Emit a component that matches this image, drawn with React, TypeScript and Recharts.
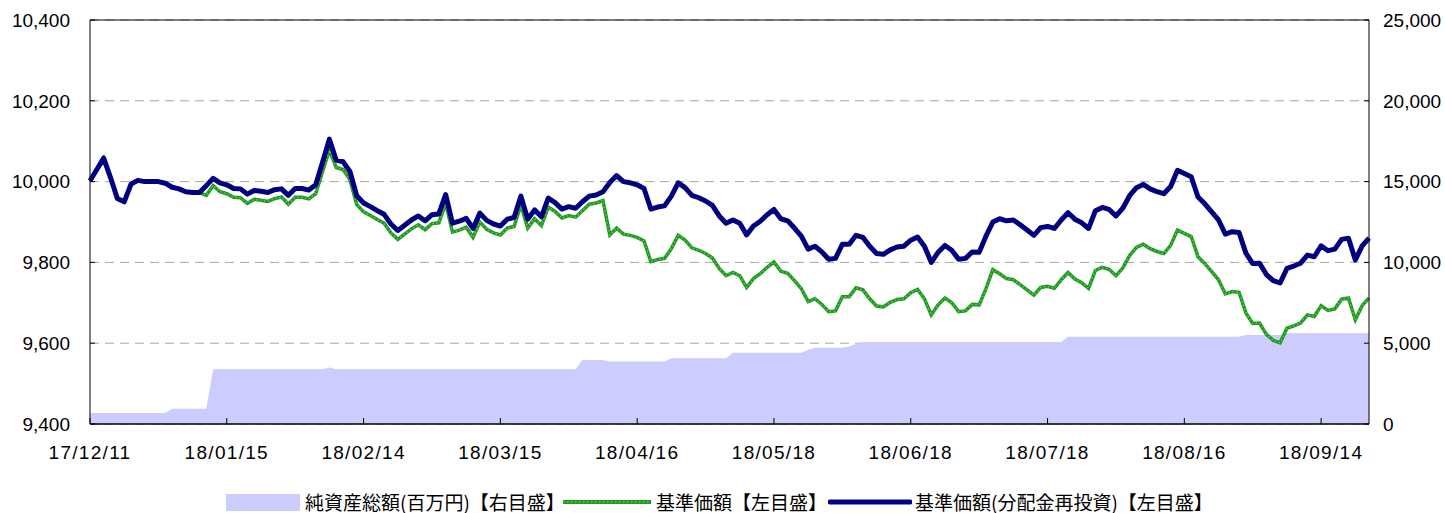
import React from "react";
import {
  ComposedChart,
  Area,
  Line,
  XAxis,
  YAxis,
  CartesianGrid,
  ReferenceLine,
} from "recharts";

// x positions of the labelled dates (index into the daily series)
const tickIndex = [0, 20, 40, 60, 80, 100, 120, 140, 160, 180];
const tickLabels = [
  "17/12/11",
  "18/01/15",
  "18/02/14",
  "18/03/15",
  "18/04/16",
  "18/05/18",
  "18/06/18",
  "18/07/18",
  "18/08/16",
  "18/09/14",
];

// 基準価額(分配金再投資) - left axis
const navReinvested = [
  10002, 10030, 10058, 10010, 9958, 9950, 9994, 10003, 10000, 10000,
  10000, 9996, 9986, 9982, 9975, 9973, 9973, 9990, 10008, 9997,
  9992, 9983, 9982, 9969, 9978, 9976, 9973, 9980, 9982, 9966,
  9983, 9983, 9979, 9992, 10048, 10105, 10053, 10049, 10025, 9965,
  9947, 9938, 9928, 9919, 9895, 9879, 9892, 9905, 9915, 9903,
  9918, 9920, 9968, 9897, 9902, 9909, 9884, 9922, 9904, 9895,
  9890, 9907, 9911, 9964, 9907, 9930, 9913, 9959, 9948, 9932,
  9938, 9934, 9950, 9964, 9967, 9975, 9998, 10015, 10000, 9997,
  9992, 9983, 9932, 9937, 9940, 9964, 9997, 9985, 9966, 9960,
  9952, 9941, 9915, 9897, 9905, 9897, 9868, 9890, 9902, 9918,
  9931, 9908, 9903, 9885, 9865, 9833, 9840, 9826, 9808, 9810,
  9845, 9845, 9867, 9862, 9840, 9822, 9820, 9831, 9838, 9840,
  9855, 9863, 9840, 9800, 9825, 9842, 9830, 9808, 9810, 9826,
  9825, 9865, 9900, 9908, 9903, 9905, 9893, 9880, 9867, 9886,
  9889, 9884, 9905, 9923, 9907, 9898, 9884, 9928, 9936, 9931,
  9915, 9934, 9965, 9985, 9993, 9982, 9975, 9970, 9988, 10028,
  10020, 10012, 9962, 9945, 9925, 9905, 9870, 9876, 9874, 9823,
  9797, 9798, 9770, 9755, 9749, 9785, 9791, 9798, 9818, 9814,
  9841, 9829, 9833, 9857, 9860, 9806, 9841, 9860,
];

// 基準価額 - left axis
const nav = [
  10002, 10030, 10058, 10010, 9958, 9950, 9994, 10003, 10000, 10000,
  10000, 9996, 9986, 9982, 9975, 9973, 9973, 9966, 9990, 9975,
  9970, 9961, 9960, 9946, 9956, 9954, 9951, 9958, 9962, 9944,
  9961, 9961, 9957, 9970, 10025, 10078, 10035, 10030, 10005, 9943,
  9925, 9916, 9906, 9897, 9873, 9857, 9870, 9883, 9893, 9881,
  9896, 9898, 9946, 9875, 9880, 9887, 9862, 9900, 9882, 9873,
  9868, 9885, 9889, 9942, 9885, 9908, 9891, 9937, 9926, 9910,
  9916, 9912, 9928, 9944, 9947, 9953, 9868, 9885, 9870, 9867,
  9862, 9853, 9802, 9807, 9810, 9834, 9867, 9855, 9836, 9830,
  9822, 9811, 9785, 9767, 9775, 9767, 9738, 9760, 9772, 9788,
  9801, 9778, 9773, 9755, 9735, 9703, 9710, 9696, 9678, 9680,
  9715, 9715, 9737, 9732, 9710, 9692, 9690, 9701, 9708, 9710,
  9725, 9733, 9710, 9670, 9695, 9712, 9700, 9678, 9680, 9696,
  9695, 9735, 9782, 9772, 9760, 9757, 9745, 9732, 9719, 9738,
  9741, 9736, 9757, 9775, 9759, 9750, 9736, 9780, 9788, 9783,
  9767, 9786, 9817, 9837, 9845, 9834, 9827, 9822, 9842, 9880,
  9872, 9864, 9814, 9797, 9777, 9757, 9722, 9728, 9726, 9675,
  9649, 9650, 9622, 9607, 9601, 9637, 9643, 9650, 9670, 9666,
  9693, 9681, 9685, 9709, 9712, 9658, 9693, 9712,
];

// 純資産総額(百万円) - right axis
const netAssets = [
  680, 680, 680, 680, 680, 680, 680, 680, 680, 680,
  680, 680, 950, 950, 950, 950, 950, 950, 3390, 3390,
  3390, 3390, 3390, 3390, 3390, 3390, 3390, 3390, 3390, 3390,
  3390, 3390, 3390, 3390, 3390, 3490, 3390, 3390, 3390, 3390,
  3390, 3390, 3390, 3390, 3390, 3390, 3390, 3390, 3390, 3390,
  3390, 3390, 3390, 3390, 3390, 3390, 3390, 3390, 3390, 3390,
  3390, 3390, 3390, 3390, 3390, 3390, 3390, 3390, 3390, 3390,
  3390, 3390, 3960, 3960, 3960, 3960, 3860, 3860, 3860, 3860,
  3860, 3860, 3860, 3860, 3860, 4065, 4065, 4065, 4065, 4065,
  4065, 4065, 4065, 4065, 4415, 4415, 4415, 4415, 4415, 4415,
  4415, 4415, 4415, 4415, 4415, 4600, 4720, 4720, 4720, 4720,
  4720, 4800, 4950, 5070, 5070, 5070, 5070, 5070, 5070, 5070,
  5070, 5070, 5070, 5070, 5070, 5070, 5070, 5070, 5070, 5070,
  5070, 5070, 5070, 5070, 5070, 5070, 5070, 5070, 5070, 5070,
  5070, 5070, 5070, 5400, 5400, 5400, 5400, 5400, 5400, 5400,
  5400, 5400, 5400, 5400, 5400, 5400, 5400, 5400, 5400, 5400,
  5400, 5400, 5400, 5400, 5400, 5400, 5400, 5400, 5400, 5500,
  5500, 5500, 5500, 5500, 5500, 5620, 5620, 5620, 5620, 5620,
  5620, 5620, 5620, 5620, 5620, 5620, 5620, 5620,
];

const leftTicks = [9400, 9600, 9800, 10000, 10200, 10400];
const rightTicks = [0, 5000, 10000, 15000, 20000, 25000];

const data = navReinvested.map((v, i) => ({
  i,
  navReinvested: v,
  nav: nav[i],
  netAssets: netAssets[i],
}));

const latin = 'Arial, "Liberation Sans", sans-serif';
const cjk = '"Noto Sans CJK JP", "Noto Sans", sans-serif';
const fmt = (v: number) => v.toLocaleString("en-US");

const DateTick = (props: any) => {
  const { x, y, payload } = props;
  const k = tickIndex.indexOf(payload.value);
  return (
    <text
      x={x}
      y={y}
      dy="0.71em"
      textAnchor="middle"
      fill="#000"
      fontSize={19}
      fontFamily={latin}
      letterSpacing={1.3}
    >
      {k >= 0 ? tickLabels[k] : ""}
    </text>
  );
};

const legendText: React.CSSProperties = {
  fontFamily: cjk,
  fontSize: 19,
  color: "#000",
  whiteSpace: "nowrap",
  lineHeight: "26px",
};

const legendItem = (left: number): React.CSSProperties => ({
  position: "absolute",
  left,
  top: 0,
  display: "flex",
  alignItems: "center",
});

const ChartLegend = () => (
  <div style={{ position: "absolute", left: 0, top: 489, width: 1445 }}>
    <div style={legendItem(226)}>
      <div style={{ width: 74, height: 17, background: "#ccccff", marginRight: 5 }} />
      <span style={legendText}>純資産総額(百万円)【右目盛】</span>
    </div>
    <div style={legendItem(563)}>
      <svg width={88} height={20} style={{ marginRight: 5 }}>
        <line x1={0} y1={10} x2={88} y2={10} stroke="#1f9a1f" strokeWidth={4} />
        <line x1={0} y1={10} x2={88} y2={10} stroke="#66c866" strokeWidth={1.5} strokeDasharray="1.5 2.5" />
      </svg>
      <span style={legendText}>基準価額【左目盛】</span>
    </div>
    <div style={legendItem(828)}>
      <svg width={84} height={20} style={{ marginRight: 3 }}>
        <line x1={2} y1={10} x2={82} y2={10} stroke="#000080" strokeWidth={5} strokeLinecap="round" />
      </svg>
      <span style={legendText}>基準価額(分配金再投資)【左目盛】</span>
    </div>
  </div>
);

export default function App() {
  return (
    <div style={{ position: "absolute", left: 0, top: 0, width: 1445, height: 513, background: "#fff" }}>
      <ComposedChart
        width={1445}
        height={513}
        data={data}
        margin={{ top: 20, right: 0, bottom: 39, left: 0 }}
      >
        <CartesianGrid
          yAxisId="left"
          vertical={false}
          stroke="#a6a6a6"
          strokeDasharray="9 6"
        />
        <XAxis
          dataKey="i"
          type="number"
          domain={[0, 187]}
          ticks={tickIndex}
          interval={0}
          height={50}
          axisLine={{ stroke: "#000", strokeWidth: 1.5 }}
          tickLine={{ stroke: "#000" }}
          tickSize={-6}
          tickMargin={28}
          tick={<DateTick />}
        />
        <YAxis
          yAxisId="left"
          orientation="left"
          width={90}
          domain={[9400, 10400]}
          ticks={leftTicks}
          interval={0}
          allowDataOverflow
          axisLine={{ stroke: "#000" }}
          tickLine={{ stroke: "#000" }}
          tickSize={-5}
          tickMargin={25}
          tickFormatter={fmt}
          tick={{ fill: "#000", fontSize: 19, fontFamily: latin }}
        />
        <YAxis
          yAxisId="right"
          orientation="right"
          width={76}
          domain={[0, 25000]}
          ticks={rightTicks}
          interval={0}
          axisLine={{ stroke: "#000" }}
          tickLine={{ stroke: "#000" }}
          tickSize={-5}
          tickMargin={19}
          tickFormatter={fmt}
          tick={{ fill: "#000", fontSize: 19, fontFamily: latin }}
        />
        <Area
          yAxisId="right"
          dataKey="netAssets"
          type="linear"
          stroke="none"
          fill="#ccccff"
          fillOpacity={1}
          isAnimationActive={false}
        />
        <Line
          yAxisId="left"
          dataKey="nav"
          type="linear"
          stroke="#1f9a1f"
          strokeWidth={3.5}
          dot={false}
          isAnimationActive={false}
        />
        <Line
          yAxisId="left"
          dataKey="nav"
          type="linear"
          stroke="#66c866"
          strokeWidth={1.3}
          strokeDasharray="1.5 2.5"
          dot={false}
          isAnimationActive={false}
        />
        <Line
          yAxisId="left"
          dataKey="navReinvested"
          type="linear"
          stroke="#000080"
          strokeWidth={5}
          strokeLinejoin="round"
          dot={false}
          isAnimationActive={false}
        />
        <ReferenceLine yAxisId="left" y={10400} stroke="#000" strokeWidth={1} />
      </ComposedChart>
      <ChartLegend />
    </div>
  );
}
